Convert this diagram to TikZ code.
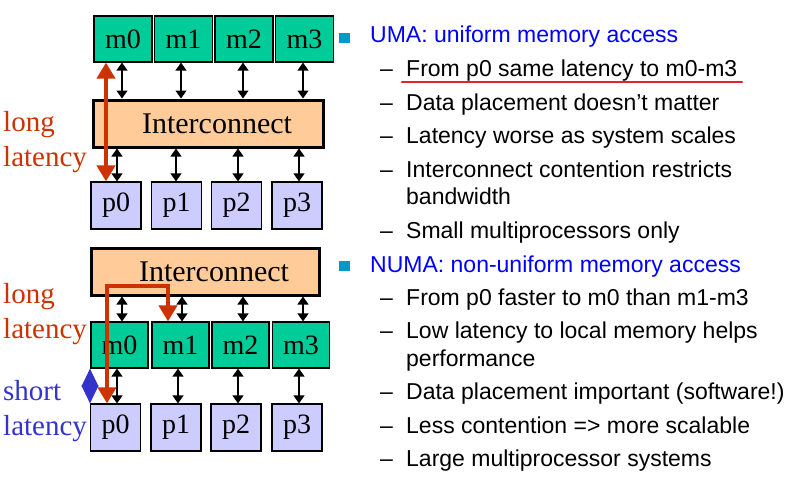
\documentclass[tikz,border=0pt]{standalone}
\usepackage{fontspec}
\setmainfont{Liberation Serif}
\newfontfamily\arialf{Liberation Sans}
\usetikzlibrary{arrows.meta}
\definecolor{memc}{RGB}{0,204,153}
\definecolor{icc}{RGB}{255,204,153}
\definecolor{procc}{RGB}{204,204,255}
\definecolor{redc}{RGB}{204,51,0}
\definecolor{bluec}{RGB}{51,51,204}
\definecolor{txtblue}{RGB}{0,0,255}
\definecolor{bulc}{RGB}{0,153,204}
\definecolor{ulred}{RGB}{232,32,42}
\tikzset{
  boxfont/.style={font=\fontsize{28}{30}\selectfont},
  membox/.style={draw=black, line width=1.2pt, fill=memc, minimum width=58pt, minimum height=46pt, inner sep=0pt, boxfont},
  procbox/.style={draw=black, line width=1.2pt, fill=procc, minimum width=50pt, minimum height=47pt, inner sep=0pt, boxfont},
  icbox/.style={draw=black, line width=3pt, fill=icc, minimum height=47pt, inner sep=0pt, font=\fontsize{30}{32}\selectfont},
  biarrow/.style={line width=1.3pt, {Triangle[width=11pt,length=8pt]}-{Triangle[width=11pt,length=8pt]}},
  redarrow/.style={draw=redc, line width=4.5pt, {Triangle[width=18pt,length=16pt]}-{Triangle[width=18pt,length=16pt]}},
  bluearrow/.style={draw=bluec, line width=1pt, {Triangle[width=17pt,length=18pt]}-{Triangle[width=17pt,length=18pt]}},
  lbl/.style={anchor=base west, inner sep=0pt, font=\fontsize{29}{31}\selectfont},
  itm/.style={anchor=base west, inner sep=0pt, font=\arialf\fontsize{23}{26}\selectfont},
  bul/.style={fill=bulc, minimum width=11pt, minimum height=10pt, inner sep=0pt}
}
\begin{document}
\begin{tikzpicture}[x=1pt,y=-1pt]
\useasboundingbox (0,0) rectangle (796,477);
% ---------- UMA diagram ----------
\node[membox] (tm0) at (123,39) {m0};
\node[membox] (tm1) at (183.5,39) {m1};
\node[membox] (tm2) at (244,39) {m2};
\node[membox] (tm3) at (304.5,39) {m3};
\node[icbox, minimum width=230pt] (tic) at (208,123.5) {\hspace*{18pt}Interconnect};
\node[procbox] (tp0) at (116,205.5) {p0};
\node[procbox] (tp1) at (176.5,205.5) {p1};
\node[procbox] (tp2) at (236.5,205.5) {p2};
\node[procbox] (tp3) at (297,205.5) {p3};
\draw[biarrow] (tm0.south -| 122,0) -- (tic.north -| 122,0);
\draw[biarrow] (tm1.south -| 181,0) -- (tic.north -| 181,0);
\draw[biarrow] (tm2.south -| 243,0) -- (tic.north -| 243,0);
\draw[biarrow] (tm3.south -| 303,0) -- (tic.north -| 303,0);
\draw[biarrow] (tic.south -| 117,0) -- (tp0.north -| 117,0);
\draw[biarrow] (tic.south -| 176,0) -- (tp1.north -| 176,0);
\draw[biarrow] (tic.south -| 238,0) -- (tp2.north -| 238,0);
\draw[biarrow] (tic.south -| 299,0) -- (tp3.north -| 299,0);
\draw[redarrow] (tm0.south -| 106,0) -- (tp0.north -| 106,0);
\node[lbl, text=redc] (tl1) at (3,131) {long};
\node[lbl, text=redc] (tl2) at (3,166) {latency};
% ---------- NUMA diagram ----------
\node[icbox, minimum width=228pt] (bic) at (205,271.5) {\hspace*{18pt}Interconnect};
\node[membox, minimum width=57pt] (bm0) at (119.5,345) {m0};
\node[membox, minimum width=57pt] (bm1) at (180.5,345) {m1};
\node[membox, minimum width=57pt] (bm2) at (240.5,345) {m2};
\node[membox, minimum width=57pt] (bm3) at (301,345) {m3};
\node[procbox] (bp0) at (115.5,427.5) {p0};
\node[procbox] (bp1) at (176,427.5) {p1};
\node[procbox] (bp2) at (236,427.5) {p2};
\node[procbox] (bp3) at (297,427.5) {p3};
\draw[biarrow] (bic.south -| 122,0) -- (bm0.north -| 122,0);
\draw[biarrow] (bic.south -| 182,0) -- (bm1.north -| 182,0);
\draw[biarrow] (bic.south -| 243,0) -- (bm2.north -| 243,0);
\draw[biarrow] (bic.south -| 303,0) -- (bm3.north -| 303,0);
\draw[biarrow] (bm0.south -| 117,0) -- (bp0.north -| 117,0);
\draw[biarrow] (bm1.south -| 178,0) -- (bp1.north -| 178,0);
\draw[biarrow] (bm2.south -| 238,0) -- (bp2.north -| 238,0);
\draw[biarrow] (bm3.south -| 299,0) -- (bp3.north -| 299,0);
\coordinate (rc1) at (168,286);
\coordinate (rc2) at (107,286);
\draw[redarrow, line join=miter] (bm1.north -| rc1) -- (rc1) -- (rc2) -- (bp0.north -| rc2);
\draw[bluearrow] (bm0.south -| 90,0) -- (bp0.north -| 90,0);
\node[lbl, text=redc] (bl1) at (3,303) {long};
\node[lbl, text=redc] (bl2) at (3,338) {latency};
\node[lbl, text=bluec] (bs1) at (3,400) {short};
\node[lbl, text=bluec] (bs2) at (3,435) {latency};
% ---------- text ----------
\node[bul] (b1) at (344.5,38) {};
\node[itm, text=txtblue] (h1) at (370,42) {UMA: uniform memory access};
\node[itm] (d11) at (380,76) {–};
\node[itm] (t11) at (406,76) {From p0 same latency to m0-m3};
\node[itm] (d12) at (380,110) {–};
\node[itm] (t12) at (406,110) {Data placement doesn’t matter};
\node[itm] (d13) at (380,143) {–};
\node[itm] (t13) at (406,143) {Latency worse as system scales};
\node[itm] (d14) at (380,177) {–};
\node[itm] (t14) at (406,177) {Interconnect contention restricts};
\node[itm] (t14b) at (406,204) {bandwidth};
\node[itm] (d15) at (380,238) {–};
\node[itm] (t15) at (406,238) {Small multiprocessors only};
\coordinate (u1) at (402,82);
\coordinate (u2) at (742,82);
\draw[ulred, line width=2.5pt, line cap=round] (u1) -- (u2);
\node[bul] (b2) at (344.5,266) {};
\node[itm, text=txtblue] (h2) at (370,272) {NUMA: non-uniform memory access};
\node[itm] (d21) at (380,305) {–};
\node[itm] (t21) at (406,305) {From p0 faster to m0 than m1-m3};
\node[itm] (d22) at (380,338) {–};
\node[itm] (t22) at (406,338) {Low latency to local memory helps};
\node[itm] (t22b) at (406,366) {performance};
\node[itm] (d23) at (380,399) {–};
\node[itm] (t23) at (406,399) {Data placement important (software!)};
\node[itm] (d24) at (380,433) {–};
\node[itm] (t24) at (406,433) {Less contention => more scalable};
\node[itm] (d25) at (380,466) {–};
\node[itm] (t25) at (406,466) {Large multiprocessor systems};
\end{tikzpicture}
\end{document}
